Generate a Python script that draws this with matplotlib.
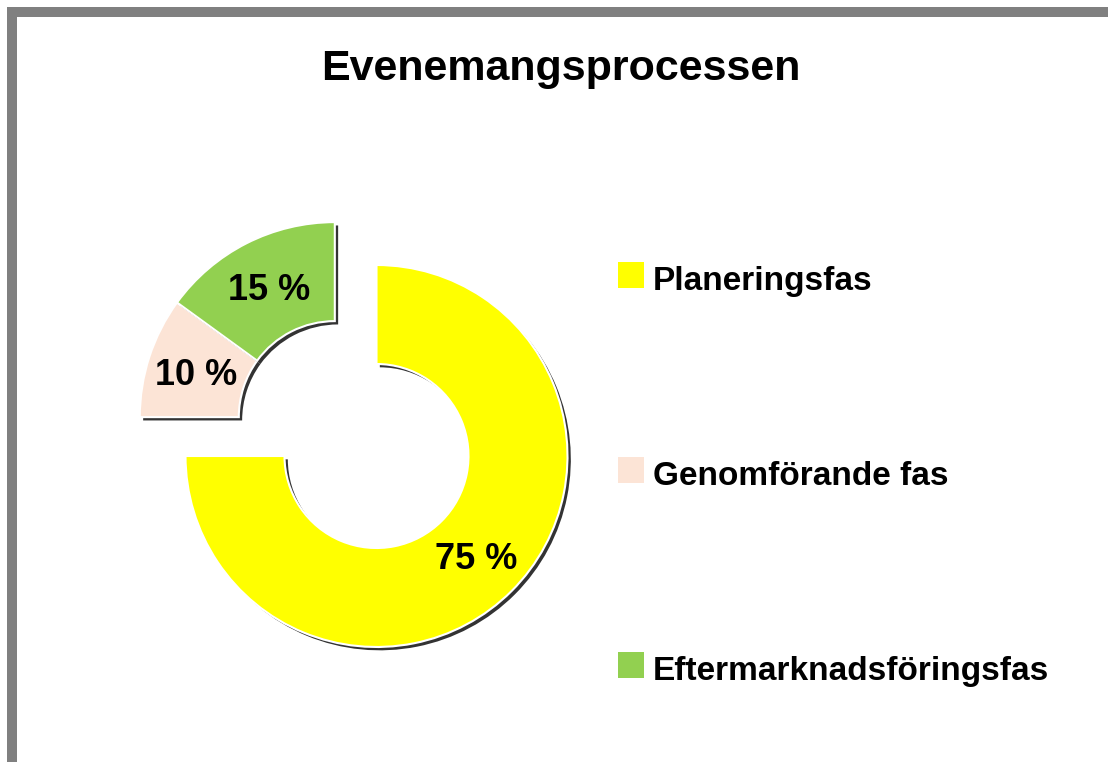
import matplotlib
matplotlib.use('Agg')
import matplotlib.pyplot as plt
import matplotlib.patheffects as pe
from matplotlib.patches import Rectangle
from matplotlib.lines import Line2D
import numpy as np

# ---------------- data ----------------
title = "Evenemangsprocessen"
categories = ["Planeringsfas", "Genomförande fas", "Eftermarknadsföringsfas"]
values = [75, 10, 15]
value_labels = ["75 %", "10 %", "15 %"]
colors = ["#FFFF00", "#FCE4D6", "#92D050"]
exploded = [False, True, True]

# ---------------- layout ----------------
W, H = 1108, 762
DPI = 100
FONT = ['Liberation Sans', 'DejaVu Sans']

fig = plt.figure(figsize=(W / DPI, H / DPI), dpi=DPI)
fig.patch.set_facecolor('white')

cx, cy = 376.5, 456.0          # pie centre in pixels (from top-left)
ax = fig.add_axes([0, 0, 1, 1])

R = 191
R_exp = 195
ring = 99
wedges, _ = ax.pie(values, colors=colors, startangle=90, counterclock=False,
                   radius=R,
                   wedgeprops=dict(width=ring, edgecolor='white', linewidth=1.5))

ax.set_xlim(-cx, W - cx)
ax.set_ylim(-(H - cy), cy)
ax.set_aspect('equal')
ax.axis('off')

# explode the group of flagged slices together along the group's mid-angle
grp = [w for w, e in zip(wedges, exploded) if e]
angs = [a for w in grp for a in (w.theta1, w.theta2)]
mid = np.deg2rad((min(angs) + max(angs)) / 2 + 2)
dist = 57
off = (dist * np.cos(mid), dist * np.sin(mid))

shadow = [pe.SimplePatchShadow(offset=(2.4, -2.4), shadow_rgbFace='black', alpha=0.8),
          pe.Normal()]

for w, e, lab in zip(wedges, exploded, value_labels):
    c = off if e else (0.0, 0.0)
    rr = R_exp if e else R
    w.set_center(c)
    w.set_radius(rr)
    w.set_width(ring)
    w.set_path_effects(shadow)
    a = np.deg2rad((w.theta1 + w.theta2) / 2)
    rm = rr - ring / 2
    x = c[0] + rm * np.cos(a)
    y = c[1] + rm * np.sin(a)
    ax.text(x, y - 13, lab, ha='center', va='baseline', fontsize=26,
            fontweight='bold', family=FONT, color='black')

# title
fig.text(561 / W, 1 - 80 / H, title, ha='center', va='baseline',
         fontsize=31, fontweight='bold', family=FONT, color='black')

# legend (manual)
base0, step = 290, 195
for i, (cat, col) in enumerate(zip(categories, colors)):
    b = base0 + i * step
    fig.add_artist(Rectangle((618 / W, 1 - (b - 2) / H), 26 / W, 26 / H,
                             transform=fig.transFigure, facecolor=col,
                             edgecolor='none'))
    fig.text(653 / W, 1 - b / H, cat, ha='left', va='baseline', fontsize=24,
             fontweight='bold', family=FONT, color='black')

# grey frame (left and top edges)
lw = 10 * 72 / DPI
fig.add_artist(Line2D([12 / W, 12 / W], [-0.02, 1 - 12 / H], transform=fig.transFigure,
                      color='#808080', linewidth=lw, solid_capstyle='projecting'))
fig.add_artist(Line2D([12 / W, 1.02], [1 - 12 / H, 1 - 12 / H], transform=fig.transFigure,
                      color='#808080', linewidth=lw, solid_capstyle='projecting'))

fig.savefig('out.png', dpi=DPI, facecolor='white')
